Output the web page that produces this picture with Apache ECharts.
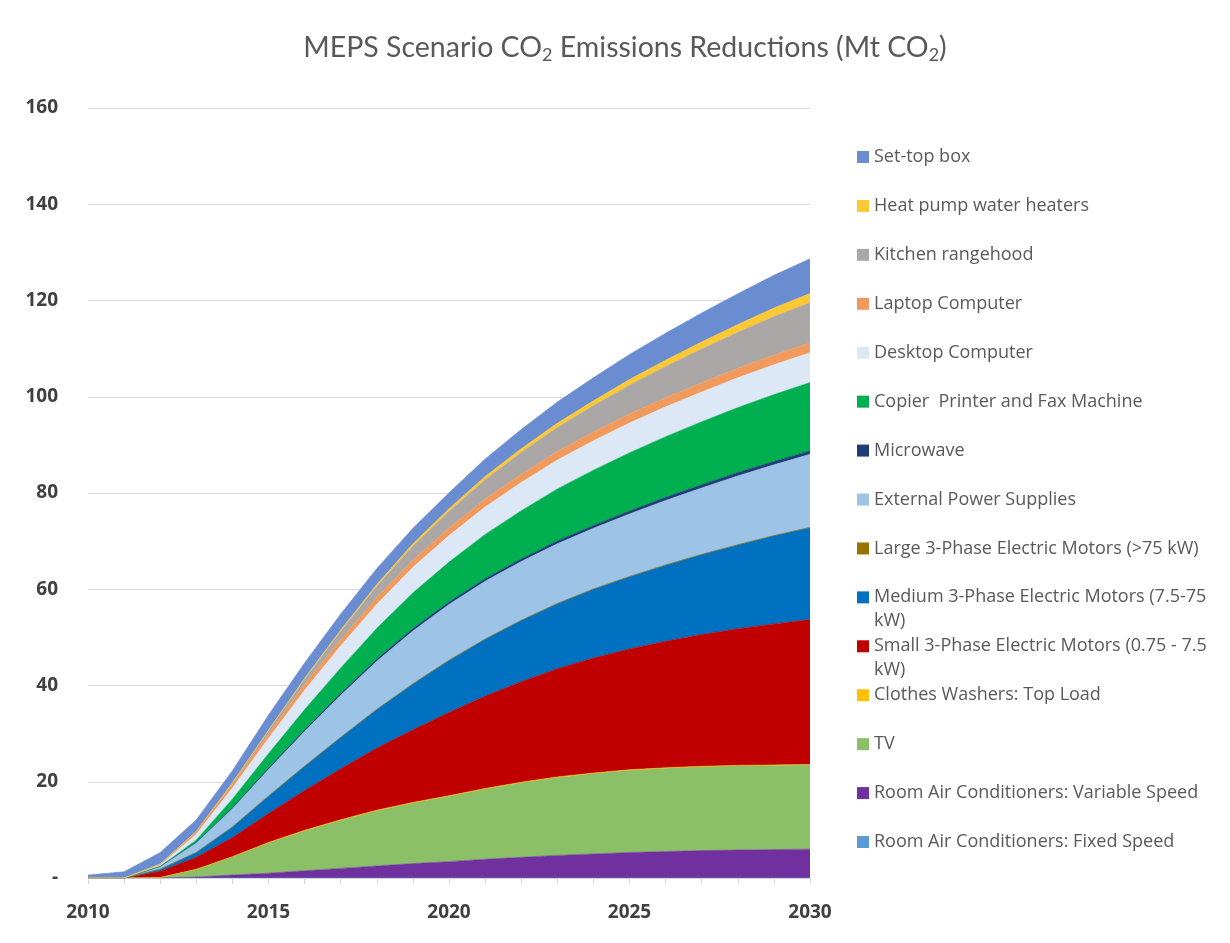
<!DOCTYPE html>
<html>
<head>
<meta charset="utf-8">
<script src="https://cdn.jsdelivr.net/npm/echarts@6/dist/echarts.min.js"></script>
<style>
html,body{margin:0;padding:0;background:#fff;}
#chart{width:1230px;height:943px;}
</style>
</head>
<body>
<div id="chart"></div>
<script>
const years = ['2010','2011','2012','2013','2014','2015','2016','2017','2018','2019','2020','2021','2022','2023','2024','2025','2026','2027','2028','2029','2030'];
const yTicks = [0,20,40,60,80,100,120,140,160];

// stacked from bottom to top
const roomAcFixed   = [0,0,0,0,0,0,0,0,0,0,0,0,0,0,0,0,0,0,0,0,0];
const roomAcVar     = [0,0,0,0.2,0.6,1.0,1.5,2.0,2.5,3.0,3.4,3.9,4.3,4.7,5.0,5.3,5.5,5.7,5.8,5.9,6.0];
const tv            = [0,0,0.1,1.6,3.8,6.3,8.3,10.0,11.5,12.6,13.6,14.6,15.5,16.2,16.7,17.1,17.3,17.4,17.5,17.5,17.5];
const clothesWash   = [0,0,0,0,0,0.1,0.1,0.1,0.1,0.1,0.1,0.1,0.1,0.1,0.1,0.1,0.1,0.1,0.1,0.1,0.1];
const smallMotors   = [0,0,1.3,2.5,4.0,6.0,8.3,10.6,12.9,15.1,17.3,19.2,20.9,22.5,23.9,25.1,26.3,27.4,28.4,29.3,30.1];
const mediumMotors  = [0,0,0.4,1.0,2.2,3.6,5.0,6.5,8.0,9.5,10.8,11.8,12.7,13.5,14.3,15.0,15.8,16.6,17.4,18.3,19.1];
const largeMotors   = [0,0,0,0,0,0.05,0.05,0.05,0.05,0.05,0.05,0.05,0.05,0.05,0.05,0.05,0.05,0.05,0.05,0.05,0.05];
const extPower      = [0,0,0.6,2.0,3.8,5.5,7.2,8.7,10.0,11.0,11.6,12.0,12.2,12.4,12.6,13.0,13.4,13.8,14.3,14.7,15.2];
const microwave     = [0,0,0,0.1,0.2,0.3,0.35,0.4,0.45,0.5,0.5,0.55,0.55,0.6,0.6,0.6,0.65,0.65,0.7,0.7,0.7];
const copier        = [0,0,0,0.5,1.8,3.0,4.2,5.3,6.4,7.4,8.3,9.2,10.0,10.8,11.5,12.1,12.6,13.1,13.5,13.9,14.2];
const desktop       = [0,0,0.3,1.2,2.3,3.2,4.0,4.6,5.0,5.3,5.5,5.7,5.9,6.0,6.1,6.2,6.2,6.2,6.2,6.2,6.2];
const laptop        = [0,0,0.2,0.5,0.8,1.0,1.2,1.3,1.4,1.5,1.6,1.65,1.7,1.75,1.8,1.85,1.9,1.9,1.95,2.0,2.0];
const rangehood     = [0,0,0,0.1,0.3,0.6,1.1,1.7,2.3,2.9,3.4,4.0,4.5,5.0,5.5,6.0,6.5,7.0,7.5,8.0,8.4];
const heatPump      = [0,0,0,0,0,0.1,0.2,0.3,0.4,0.5,0.6,0.7,0.8,0.9,1.0,1.2,1.3,1.5,1.6,1.8,1.9];
const setTopBox     = [0.6,1.3,2.4,2.4,2.5,3.1,3.2,3.3,3.3,3.2,3.3,3.6,4.0,4.4,4.8,5.2,5.6,6.0,6.4,6.8,7.2];

const seriesNames = [
  'Room Air Conditioners: Fixed Speed',
  'Room Air Conditioners: Variable Speed',
  'TV',
  'Clothes Washers: Top Load',
  'Small 3-Phase Electric Motors (0.75 - 7.5 kW)',
  'Medium 3-Phase Electric Motors (7.5-75 kW)',
  'Large 3-Phase Electric Motors (>75 kW)',
  'External Power Supplies',
  'Microwave',
  'Copier  Printer and Fax Machine',
  'Desktop Computer',
  'Laptop Computer',
  'Kitchen rangehood',
  'Heat pump water heaters',
  'Set-top box'
];
const seriesData = [roomAcFixed, roomAcVar, tv, clothesWash, smallMotors, mediumMotors, largeMotors, extPower, microwave, copier, desktop, laptop, rangehood, heatPump, setTopBox];
const seriesColors = ['#5b9bd5','#7030a0','#8cc068','#ffc000','#c00000','#0070c0','#997300','#9dc3e6','#1f3c78','#00b050','#dce8f5','#f19a5c','#aba7a7','#fcc834','#6a8cd0'];

const chart = echarts.init(document.getElementById('chart'));

const legendNames = seriesNames.slice().reverse();
const legendLabel = function (name) {
  if (name.indexOf('Medium 3-Phase') === 0) return 'Medium 3-Phase Electric Motors (7.5-75';
  if (name.indexOf('Small 3-Phase') === 0) return 'Small 3-Phase Electric Motors (0.75 - 7.5';
  return name;
};

const option = {
  backgroundColor: '#ffffff',
  animation: false,
  title: {
    text: 'MEPS Scenario CO{s|2} Emissions Reductions (Mt CO{s|2})',
    left: 625,
    top: 31,
    padding: 0,
    textAlign: 'center',
    textStyle: {
      fontFamily: 'Lato',
      fontSize: 28.5,
      fontWeight: 'normal',
      color: '#595959',
      rich: {
        s: { fontFamily: 'Lato', fontSize: 18, color: '#595959', padding: [15, 0, 0, 0] }
      }
    }
  },
  grid: { left: 88, right: 420, top: 108, bottom: 65, containLabel: false },
  legend: {
    orient: 'vertical',
    left: 857,
    top: 148,
    padding: 0,
    itemGap: 30.93,
    itemWidth: 12,
    itemHeight: 12,
    icon: 'rect',
    data: legendNames,
    formatter: legendLabel,
    textStyle: { fontFamily: 'Open Sans', fontSize: 18, color: '#595959', lineHeight: 18 }
  },
  graphic: [
    { type: 'text', left: 874, top: 612, style: { text: 'kW)', font: '18px "Open Sans"', fill: '#595959' } },
    { type: 'text', left: 874, top: 661, style: { text: 'kW)', font: '18px "Open Sans"', fill: '#595959' } }
  ],
  xAxis: {
    type: 'category',
    data: years,
    boundaryGap: false,
    axisLine: { lineStyle: { color: '#d9d9d9', width: 1 } },
    axisTick: { show: true, interval: 0, length: 6, lineStyle: { color: '#d9d9d9' } },
    axisLabel: { interval: 4, margin: 25, fontFamily: 'Open Sans', fontWeight: 'bold', fontSize: 19, color: '#404040' },
    splitLine: { show: false }
  },
  yAxis: {
    type: 'value',
    min: yTicks[0],
    max: yTicks[yTicks.length - 1],
    interval: 20,
    axisLine: { show: false },
    axisTick: { show: false },
    axisLabel: {
      margin: 30,
      fontFamily: 'Open Sans', fontWeight: 'bold', fontSize: 19, color: '#404040',
      formatter: function (v) { return v === 0 ? '-' : String(v); }
    },
    splitLine: { lineStyle: { color: '#d9d9d9', width: 1 } }
  },
  series: seriesNames.map(function (name, i) {
    return {
      name: name,
      type: 'line',
      stack: 'total',
      data: seriesData[i],
      symbol: 'none',
      smooth: false,
      color: seriesColors[i],
      lineStyle: { width: 0.6, color: seriesColors[i] },
      areaStyle: { color: seriesColors[i], opacity: 1 },
      emphasis: { disabled: true }
    };
  })
};
chart.setOption(option);
</script>
</body>
</html>
